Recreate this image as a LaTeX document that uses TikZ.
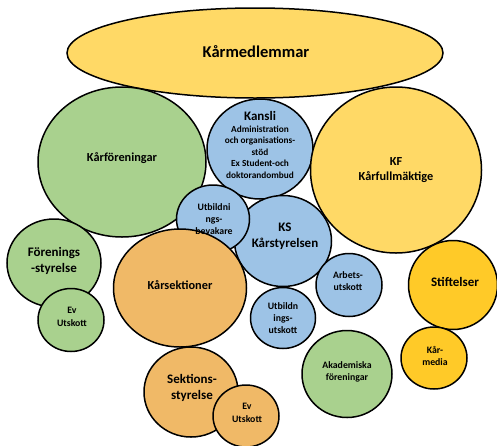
\documentclass[tikz,border=0pt]{standalone}
\usepackage{fontspec}
\setmainfont{Carlito}
\usetikzlibrary{shapes.geometric}
\definecolor{cyel}{HTML}{FFD966}
\definecolor{cgold}{HTML}{FFCA28}
\definecolor{cgreen}{HTML}{A9D18E}
\definecolor{cblue}{HTML}{9DC3E6}
\definecolor{corange}{HTML}{F0B967}
\tikzset{
  bubble/.style={ellipse, draw=black, line width=1.5pt, inner sep=0pt},
  lbl/.style 2 args={align=center, font=\bfseries\fontsize{#1}{#2}\selectfont, inner sep=0pt},
}
\begin{document}
\begin{tikzpicture}[x=1pt,y=-1pt]
\useasboundingbox (0,0) rectangle (497,445);
% big bubbles
\node[bubble, fill=cyel, minimum width=376, minimum height=90] (med) at (255,53) {};
\node[bubble, fill=cgreen, minimum width=168, minimum height=150] (kfor) at (122,162) {};
\node[bubble, fill=cblue, minimum width=106, minimum height=100] (kansli) at (260,149) {};
\node[bubble, fill=cyel, minimum width=171, minimum height=166] (kf) at (396,170) {};
\node[bubble, fill=cblue, minimum width=97, minimum height=91] (ks) at (283,241) {};
\node[bubble, fill=cblue, minimum width=73, minimum height=68] (ubev) at (213,219) {};
\node[bubble, fill=cgreen, minimum width=94, minimum height=88] (fsty) at (54,263) {};
\node[bubble, fill=cgreen, minimum width=66, minimum height=63] (evg) at (71,320) {};
\node[bubble, fill=corange, minimum width=133, minimum height=118] (ksek) at (180,288) {};
\node[bubble, fill=corange, minimum width=94, minimum height=90] (ssty) at (191,392) {};
\node[bubble, fill=corange, minimum width=66, minimum height=62] (evo) at (246,416) {};
\node[bubble, fill=cblue, minimum width=66, minimum height=63] (au) at (349,285) {};
\node[bubble, fill=cblue, minimum width=65, minimum height=61] (uu) at (283,318) {};
\node[bubble, fill=cgreen, minimum width=90, minimum height=87] (akad) at (347,374) {};
\node[bubble, fill=cgold, minimum width=89, minimum height=89] (stift) at (453,285) {};
\node[bubble, fill=cgold, minimum width=66, minimum height=62] (kmed) at (434,358) {};
% labels
\node[lbl={16.5}{19}] (tmed) at (256,52) {Kårmedlemmar};
\node[lbl={12.3}{15}] (tkfor) at (122,158) {Kårföreningar};
\node[lbl={9.3}{11.6}] (tkansli) at (260,145) {\fontsize{13}{14}\selectfont Kansli\\
  Administration\\och organisations-\\stöd\\Ex Student-och\\doktorandombud};
\node[lbl={12.3}{15.3}] (tkf) at (396,170) {KF\\Kårfullmäktige};
\node[lbl={13}{16}] (tks) at (285,236) {KS\\Kårstyrelsen};
\node[lbl={9.8}{11.7}] (tubev) at (214,219) {Utbildni\\ngs-\\bevakare};
\node[lbl={13}{16.5}] (tfsty) at (54,261) {Förenings\\-styrelse};
\node[lbl={9.8}{12.7}] (tevg) at (72,317) {Ev\\Utskott};
\node[lbl={12.3}{15}] (tksek) at (180,285) {Kårsektioner};
\node[lbl={13}{15.7}] (tssty) at (192,388) {Sektions-\\styrelse};
\node[lbl={9.8}{12.7}] (tevo) at (247,413) {Ev\\Utskott};
\node[lbl={9.8}{11.7}] (tau) at (348,281) {Arbets-\\utskott};
\node[lbl={9.8}{11.7}] (tuu) at (283,318) {Utbildn\\ings-\\utskott};
\node[lbl={9.8}{11.7}] (takad) at (347,372) {Akademiska\\föreningar};
\node[lbl={13}{15}] (tstift) at (455,282) {Stiftelser};
\node[lbl={9.8}{12.3}] (tkmed) at (435,356) {Kår-\\media};
\end{tikzpicture}
\end{document}
